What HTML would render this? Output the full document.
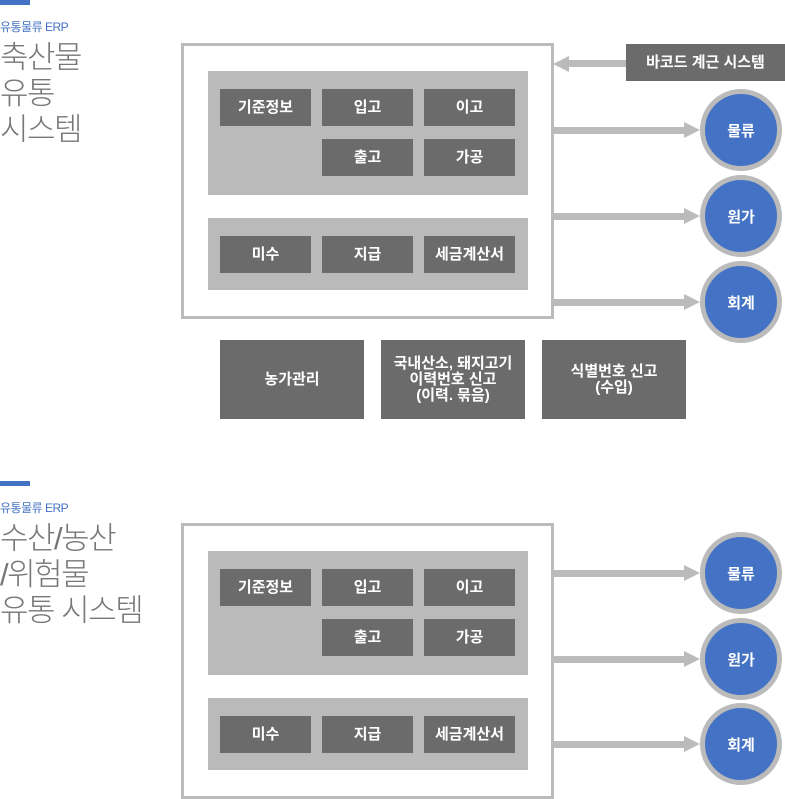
<!DOCTYPE html>
<html><head><meta charset="utf-8"><style>
body{margin:0;width:785px;height:799px;background:#fff;position:relative;overflow:hidden;font-family:"Liberation Sans","Noto Sans CJK KR",sans-serif}
.a{position:absolute}
.bar{background:#4472c4;height:5px;width:30px;left:0}
.sub{color:#4472c4;font-size:12px;left:0;letter-spacing:-0.5px}
.ttl{color:#777;font-size:31px;line-height:36px;left:0;font-weight:300;letter-spacing:-1.5px}
.outer{border:3px solid #bbb;box-sizing:border-box}
.pan{background:#bababa}
.b{background:#6b6b6b;color:#fff;font-size:15px;font-weight:bold;display:flex;align-items:center;justify-content:center;text-align:center;line-height:16px}
.c{width:72px;height:72px;border-radius:50%;background:#4472c4;border:5px solid #bbb;color:#fff;font-weight:bold;font-size:15px;display:flex;align-items:center;justify-content:center}
.ln{background:#bbb;height:7px}
.ar{width:0;height:0;border-top:8px solid transparent;border-bottom:8px solid transparent}
</style></head><body>
<div class="a bar" style="top:0"></div>
<div class="a sub" style="top:18px">유통물류 ERP</div>
<div class="a ttl" style="top:40px">축산물<br>유통<br>시스템</div>

<div class="a outer" style="left:181px;top:43px;width:373px;height:276px"></div>
<div class="a pan" style="left:208px;top:71px;width:320px;height:124px"></div>
<div class="a b" style="left:220px;top:89px;width:91px;height:37px">기준정보</div>
<div class="a b" style="left:322px;top:89px;width:91px;height:37px">입고</div>
<div class="a b" style="left:424px;top:89px;width:91px;height:37px">이고</div>
<div class="a b" style="left:322px;top:139px;width:91px;height:37px">출고</div>
<div class="a b" style="left:424px;top:139px;width:91px;height:37px">가공</div>
<div class="a pan" style="left:208px;top:218px;width:320px;height:72px"></div>
<div class="a b" style="left:220px;top:236px;width:91px;height:37px">미수</div>
<div class="a b" style="left:322px;top:236px;width:91px;height:37px">지급</div>
<div class="a b" style="left:424px;top:236px;width:91px;height:37px">세금계산서</div>

<div class="a b" style="left:626px;top:44px;width:159px;height:37px;font-size:15px">바코드 계근 시스템</div>
<div class="a ln" style="left:568px;top:60px;width:58px"></div>
<div class="a ar" style="left:553px;top:56px;border-right:16px solid #bbb"></div>

<div class="a ln" style="left:554px;top:127px;width:132px"></div><div class="a ar" style="left:684px;top:122px;border-left:16px solid #bbb"></div>
<div class="a ln" style="left:554px;top:213px;width:132px"></div><div class="a ar" style="left:684px;top:208px;border-left:16px solid #bbb"></div>
<div class="a ln" style="left:554px;top:299px;width:132px"></div><div class="a ar" style="left:684px;top:294px;border-left:16px solid #bbb"></div>
<div class="a c" style="left:700px;top:89px">물류</div>
<div class="a c" style="left:700px;top:175px">원가</div>
<div class="a c" style="left:700px;top:261px">회계</div>

<div class="a b" style="left:220px;top:340px;width:144px;height:79px">농가관리</div>
<div class="a b" style="left:381px;top:340px;width:144px;height:79px">국내산소, 돼지고기<br>이력번호 신고<br>(이력. 묶음)</div>
<div class="a b" style="left:542px;top:340px;width:144px;height:79px">식별번호 신고<br>(수입)</div>

<div class="a bar" style="top:481px"></div>
<div class="a sub" style="top:499px">유통물류 ERP</div>
<div class="a ttl" style="top:521px">수산/농산<br>/위험물<br>유통 시스템</div>

<div class="a outer" style="left:181px;top:523px;width:373px;height:276px"></div>
<div class="a pan" style="left:208px;top:551px;width:320px;height:124px"></div>
<div class="a b" style="left:220px;top:569px;width:91px;height:37px">기준정보</div>
<div class="a b" style="left:322px;top:569px;width:91px;height:37px">입고</div>
<div class="a b" style="left:424px;top:569px;width:91px;height:37px">이고</div>
<div class="a b" style="left:322px;top:619px;width:91px;height:37px">출고</div>
<div class="a b" style="left:424px;top:619px;width:91px;height:37px">가공</div>
<div class="a pan" style="left:208px;top:698px;width:320px;height:72px"></div>
<div class="a b" style="left:220px;top:716px;width:91px;height:37px">미수</div>
<div class="a b" style="left:322px;top:716px;width:91px;height:37px">지급</div>
<div class="a b" style="left:424px;top:716px;width:91px;height:37px">세금계산서</div>

<div class="a ln" style="left:554px;top:570px;width:132px"></div><div class="a ar" style="left:684px;top:565px;border-left:16px solid #bbb"></div>
<div class="a ln" style="left:554px;top:656px;width:132px"></div><div class="a ar" style="left:684px;top:651px;border-left:16px solid #bbb"></div>
<div class="a ln" style="left:554px;top:741px;width:132px"></div><div class="a ar" style="left:684px;top:736px;border-left:16px solid #bbb"></div>
<div class="a c" style="left:700px;top:532px">물류</div>
<div class="a c" style="left:700px;top:618px">원가</div>
<div class="a c" style="left:700px;top:703px">회계</div>
</body></html>
